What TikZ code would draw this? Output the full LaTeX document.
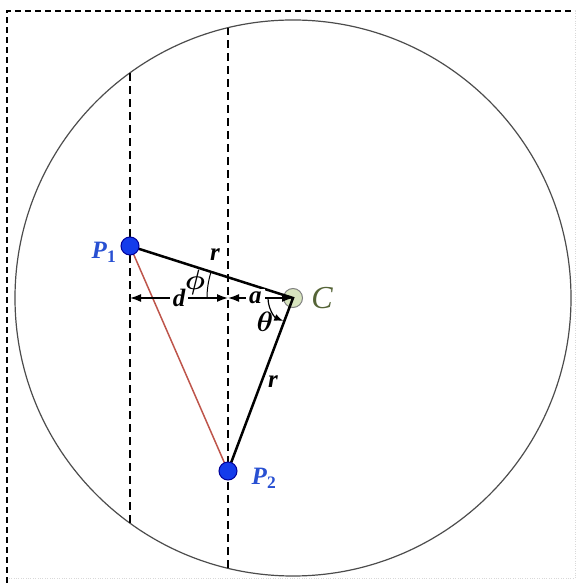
\documentclass[tikz,border=0pt]{standalone}
\usepackage{fontspec}
\setmainfont{Liberation Serif}
\usepackage{fix-cm}
\usepackage{bm}
\usetikzlibrary{arrows.meta}
\definecolor{ptblue}{RGB}{20,60,235}
\definecolor{lblblue}{RGB}{40,80,210}
\definecolor{cgreen}{RGB}{215,228,190}
\definecolor{colive}{RGB}{85,100,55}
\definecolor{chord}{RGB}{190,85,75}
\tikzset{
  pt/.style={circle,draw=blue!60!black,fill=ptblue,line width=1pt,inner sep=0pt,minimum size=18pt},
  lbl/.style={font=\fontsize{25}{30}\selectfont\bfseries\itshape},
  greek/.style={font=\fontsize{28}{32}\selectfont},
  dim/.style={{Latex[length=11pt,width=8pt]}-{Latex[length=11pt,width=8pt]},line width=1.5pt},
  guide/.style={dash pattern=on 8pt off 5pt,line width=1.8pt}
}
\begin{document}
\begin{tikzpicture}[x=1pt,y=1pt]
  \useasboundingbox (0,0) rectangle (579,583);
  \draw[dash pattern=on 6pt off 4pt,line width=1.2pt](7,0)--(7,572)--(575,572);
  \draw[dotted,black!15](575,572)--(575,5)--(7,5);
  \draw[black!70,line width=1.2pt](293,285) circle (278);
  \draw[guide](130,60)--(130,510);
  \draw[guide](228,15)--(228,555);
  \node[circle,draw=black!50,fill=cgreen,line width=1pt,inner sep=0pt,minimum size=19pt](C) at (293,285){};
  \coordinate (c) at (293,285);
  \coordinate (m) at (228,285);
  \coordinate (l) at (130,285);
  \draw[chord,line width=1.5pt](130,337)--(228,112);
  \draw[line width=2.5pt](130,337)--(c)--(228,112);
  \node[pt](P1) at (130,337){};
  \node[pt](P2) at (228,112){};
  \draw[dim](l)--node[lbl,fill=white,inner sep=3pt]{d}(m);
  \draw[dim](m)--node[lbl,fill=white,inner sep=3pt,pos=.42]{a}(c);
  \draw[line width=1pt](c)++(180:86) arc (180:162.3:86);
  \draw[line width=1.2pt,-{Latex[length=9pt,width=7pt]}](c)++(180:25) arc (180:247:25);
  \node[greek] (phi) at (195,300){$\bm{\phi}$};
  \node[greek] (theta) at (265,261){$\bm{\theta}$};
  \node[lbl] (r1) at (215,328){r};
  \node[lbl] (r2) at (273,201){r};
  \node[lbl,text=lblblue] (p1l) at (104,331){P\textsubscript{\upshape 1}};
  \node[lbl,text=lblblue] (p2l) at (264,105){P\textsubscript{\upshape 2}};
  \node[font=\fontsize{32}{36}\selectfont\itshape,text=colive] (cl) at (322,285){C};
\end{tikzpicture}
\end{document}
